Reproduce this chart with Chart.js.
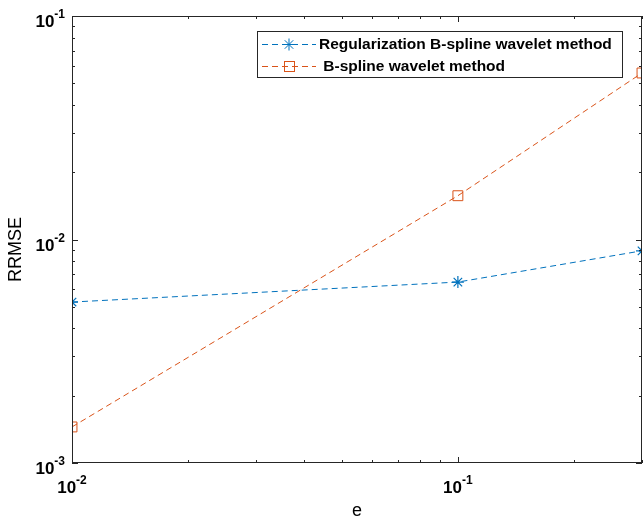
<!DOCTYPE html>
<html>
<head>
<meta charset="utf-8">
<script src="https://cdn.jsdelivr.net/npm/chart.js@4.4.1/dist/chart.umd.min.js"></script>
<style>
html, body { margin: 0; padding: 0; background: #fff; }
#wrap { width: 643px; height: 526px; position: relative; }
</style>
</head>
<body>
<div id="wrap"><canvas id="chart" width="643" height="526"></canvas></div>
<script>
// data
const eValues = [0.01, 0.1, 0.3];
const regBsplineRrmse = [0.00525, 0.00645, 0.0089];
const bsplineRrmse = [0.00145, 0.0157, 0.0556];
const seriesNames = ['Regularization B-spline wavelet method', ' B-spline wavelet method'];

const xTickValues = [0.01, 0.1];
const xTickExps = ['-2', '-1'];
const yTickValues = [0.001, 0.01, 0.1];
const yTickExps = ['-3', '-2', '-1'];

const BLUE = '#0072BD';
const ORANGE = '#D95319';
const AXIS = '#262626';
const FONT = 'Arial, "Liberation Sans", sans-serif';

function minorTicks(min, max) {
    const out = [];
    for (let d = Math.floor(Math.log10(min)); d <= Math.ceil(Math.log10(max)); d++) {
        for (let m = 1; m <= 9; m++) {
            const v = m * Math.pow(10, d);
            if (v >= min * 0.999 && v <= max * 1.001) out.push({ v, major: m === 1 });
        }
    }
    return out;
}

function drawPow(ctx, x, y, exp, align) {
    ctx.font = 'bold 17px ' + FONT;
    const wb = ctx.measureText('10').width;
    ctx.font = 'bold 12px ' + FONT;
    const we = ctx.measureText(exp).width;
    let sx = x;
    if (align === 'right') sx = x - wb - we;
    if (align === 'center') sx = x - (wb + we) / 2;
    ctx.textAlign = 'left';
    ctx.textBaseline = 'alphabetic';
    ctx.fillStyle = '#000';
    ctx.font = 'bold 17px ' + FONT;
    ctx.fillText('10', sx, y);
    ctx.font = 'bold 12px ' + FONT;
    ctx.fillText(exp, sx + wb, y - 9);
}

function drawStar(ctx, x, y, r) {
    ctx.beginPath();
    for (let i = 0; i < 4; i++) {
        const a = i * Math.PI / 4;
        ctx.moveTo(x - r * Math.cos(a), y - r * Math.sin(a));
        ctx.lineTo(x + r * Math.cos(a), y + r * Math.sin(a));
    }
    ctx.stroke();
}

const axesPlugin = {
    id: 'matlabAxes',
    afterDraw(chart) {
        const ctx = chart.ctx;
        const a = chart.chartArea;
        const xs = chart.scales.x, ys = chart.scales.y;
        ctx.save();
        ctx.strokeStyle = AXIS;
        ctx.lineWidth = 1;
        ctx.setLineDash([]);
        ctx.strokeRect(a.left + 0.5, a.top + 0.5, a.right - a.left - 1, a.bottom - a.top - 1);

        // ticks, inward, on all four sides
        ctx.beginPath();
        minorTicks(xs.min, xs.max).forEach(t => {
            const px = Math.round(xs.getPixelForValue(t.v)) + 0.5;
            const len = t.major ? 6 : 3;
            ctx.moveTo(px, a.bottom); ctx.lineTo(px, a.bottom - len);
            ctx.moveTo(px, a.top); ctx.lineTo(px, a.top + len);
        });
        minorTicks(ys.min, ys.max).forEach(t => {
            const py = Math.round(ys.getPixelForValue(t.v)) + 0.5;
            const len = t.major ? 6 : 3;
            ctx.moveTo(a.left, py); ctx.lineTo(a.left + len, py);
            ctx.moveTo(a.right, py); ctx.lineTo(a.right - len, py);
        });
        ctx.stroke();

        // tick labels
        xTickValues.forEach((v, i) => drawPow(ctx, xs.getPixelForValue(v), a.bottom + 30, xTickExps[i], 'center'));
        yTickValues.forEach((v, i) => drawPow(ctx, a.left - 7, ys.getPixelForValue(v) + 11, yTickExps[i], 'right'));

        // axis titles
        ctx.fillStyle = '#000';
        ctx.font = '18px ' + FONT;
        ctx.textAlign = 'center';
        ctx.textBaseline = 'middle';
        ctx.fillText('e', (a.left + a.right) / 2, 511);
        ctx.save();
        ctx.translate(16, (a.top + a.bottom) / 2 + 10);
        ctx.rotate(-Math.PI / 2);
        ctx.fillText('RRMSE', 0, 0);
        ctx.restore();

        // legend
        const lx = 257.5, ly = 31.5, lw = 365, lh = 46;
        ctx.fillStyle = '#fff';
        ctx.fillRect(lx, ly, lw, lh);
        ctx.strokeStyle = AXIS;
        ctx.strokeRect(lx, ly, lw, lh);
        const rows = [
            { y: 44, color: BLUE, marker: 'star', text: seriesNames[0] },
            { y: 66, color: ORANGE, marker: 'rect', text: seriesNames[1] }
        ];
        rows.forEach(r => {
            ctx.strokeStyle = r.color;
            ctx.lineWidth = 1;
            ctx.setLineDash([6, 4]);
            ctx.beginPath();
            ctx.moveTo(262, r.y + 0.5); ctx.lineTo(316, r.y + 0.5);
            ctx.stroke();
            ctx.setLineDash([]);
            if (r.marker === 'star') drawStar(ctx, 289, r.y + 0.5, 6);
            else ctx.strokeRect(284.5, r.y - 4.5, 10, 10);
            ctx.fillStyle = '#000';
            ctx.font = 'bold 15.5px ' + FONT;
            ctx.textAlign = 'left';
            ctx.textBaseline = 'middle';
            ctx.fillText(r.text, 319, r.y + 1);
        });
        ctx.restore();
    }
};

new Chart(document.getElementById('chart'), {
    type: 'line',
    data: {
        labels: eValues,
        datasets: [{
            label: seriesNames[0],
            data: eValues.map((x, i) => ({ x, y: regBsplineRrmse[i] })),
            borderColor: BLUE,
            borderWidth: 1,
            borderDash: [6, 4],
            pointStyle: 'star',
            pointRadius: 6,
            pointBorderColor: BLUE,
            pointBorderWidth: 1.2,
            pointBackgroundColor: 'rgba(0,0,0,0)',
            fill: false,
            tension: 0
        }, {
            label: seriesNames[1],
            data: eValues.map((x, i) => ({ x, y: bsplineRrmse[i] })),
            borderColor: ORANGE,
            borderWidth: 1,
            borderDash: [6, 4],
            pointStyle: 'rect',
            pointRadius: 7,
            pointBorderColor: ORANGE,
            pointBorderWidth: 1,
            pointBackgroundColor: 'rgba(0,0,0,0)',
            fill: false,
            tension: 0
        }]
    },
    options: {
        responsive: false,
        animation: false,
        layout: { autoPadding: false, padding: { top: 16, right: 1, left: 0, bottom: 0 } },
        plugins: { legend: { display: false }, tooltip: { enabled: false } },
        scales: {
            x: {
                type: 'logarithmic',
                min: 0.01,
                max: 0.3,
                ticks: { display: false },
                grid: { display: false },
                border: { display: false },
                afterFit(s) { s.height = 63; }
            },
            y: {
                type: 'logarithmic',
                min: 0.001,
                max: 0.1,
                ticks: { display: false },
                grid: { display: false },
                border: { display: false },
                afterFit(s) { s.width = 72; }
            }
        }
    },
    plugins: [axesPlugin]
});
</script>
</body>
</html>
